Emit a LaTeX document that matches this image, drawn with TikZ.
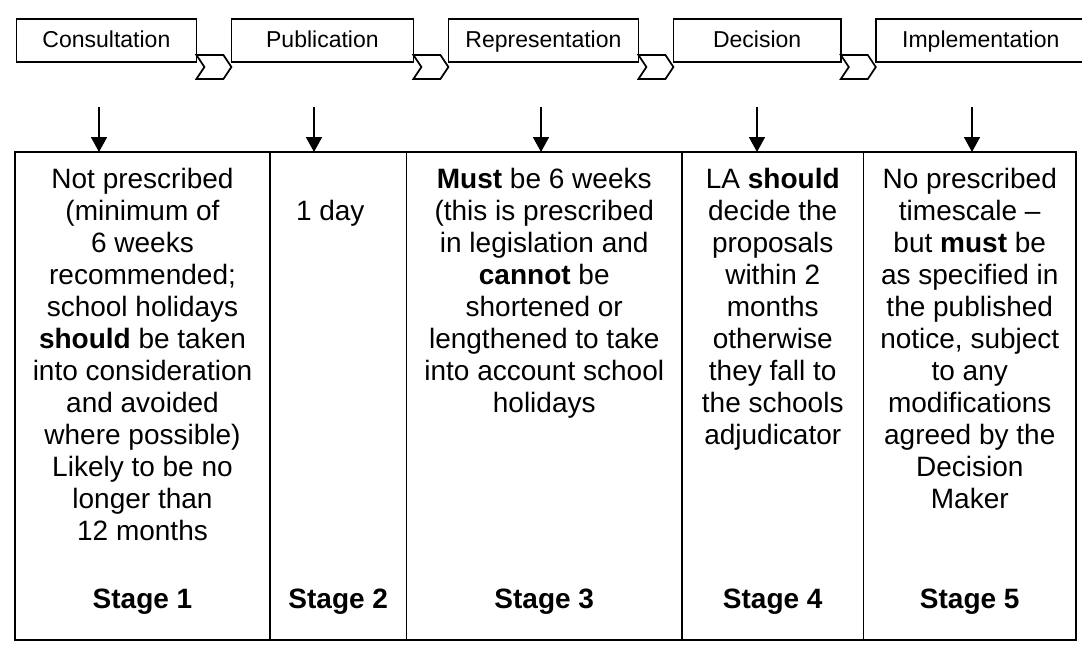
\documentclass[tikz,border=0pt]{standalone}
\usepackage{fontspec}
\setmainfont{Liberation Sans}
\usetikzlibrary{positioning,arrows.meta}

\tikzset{
  phase/.style={draw,line width=0.85pt,minimum height=21.5pt,inner sep=0pt,outer sep=0pt,
    font=\fontsize{11.5}{13}\selectfont,text height=0.72em,text depth=0pt},
  cell/.style={draw,line width=0.85pt,minimum height=244pt,inner sep=0pt,outer sep=0pt},
  body/.style={anchor=north,align=center,inner sep=0pt,font=\fontsize{14}{16}\selectfont},
  stage/.style={anchor=base,inner sep=0pt,font=\fontsize{14}{16}\selectfont\bfseries},
  chevron/.style={draw,line width=0.85pt,line join=miter},
  down/.style={-{Triangle[length=7.5pt,width=8pt]},line width=0.9pt}
}

\begin{document}
\begin{tikzpicture}[x=0.5pt,y=-0.5pt]
  \useasboundingbox (0,0) rectangle (1082,650);
  \clip (0,0) rectangle (1082,650);

  % phases along the top
  \node[phase,minimum width=90pt,anchor=north west] (cons) at (16.4,19) {Consultation};
  \node[phase,minimum width=91pt,right=17.5pt of cons] (pub) {Publication};
  \node[phase,minimum width=95pt,right=17.5pt of pub] (rep) {Representation};
  \node[phase,minimum width=83.7pt,right=17.5pt of rep] (dec) {Decision};
  \node[phase,minimum width=105pt,right=17.5pt of dec] (impl) {Implementation};

  \foreach \a/\b in {cons/pub,pub/rep,rep/dec,dec/impl}
    \draw[chevron] ([yshift=3.5pt]\a.south east) -- ++(27,0) -- ([yshift=-2.5pt]\b.south west)
      -- ++(-8,12) -- ++(-27,0) -- ++(8,-12) -- cycle;

  % the table of stages
  \node[cell,minimum width=127.5pt,anchor=north west] (s1) at (15,152) {};
  \node[cell,minimum width=68.25pt,right=0pt of s1] (s2) {};
  \node[cell,minimum width=137.75pt,right=0pt of s2] (s3) {};
  \node[cell,minimum width=90.75pt,right=0pt of s3] (s4) {};
  \node[cell,minimum width=106.25pt,right=0pt of s4] (s5) {};

  \coordinate (a1) at (99,107);
  \coordinate (a2) at (314,107);
  \coordinate (a3) at (541,107);
  \coordinate (a4) at (757,107);
  \coordinate (a5) at (972,107);
  \foreach \i in {1,...,5}
    \draw[down] (a\i) -- (a\i |- s\i.north);

  \node[body] (t1) at ([yshift=-8pt]s1.north) {Not prescribed\\(minimum of\\6 weeks\\recommended;\\school holidays\\\textbf{should} be taken\\into consideration\\and avoided\\where possible)\\Likely to be no\\longer than\\12 months};
  \node[body] (t2) at ([xshift=-4pt,yshift=-24pt]s2.north) {1 day};
  \node[body] (t3) at ([yshift=-8pt]s3.north) {\textbf{Must} be 6 weeks\\(this is prescribed\\in legislation and\\\textbf{cannot} be\\shortened or\\lengthened to take\\into account school\\holidays};
  \node[body] (t4) at ([yshift=-8pt]s4.north) {LA \textbf{should}\\decide the\\proposals\\within 2\\months\\otherwise\\they fall to\\the schools\\adjudicator};
  \node[body] (t5) at ([yshift=-8pt]s5.north) {No prescribed\\timescale –\\but \textbf{must} be\\as specified in\\the published\\notice, subject\\to any\\modifications\\agreed by the\\Decision\\Maker};

  \foreach \i in {1,...,5}
    \node[stage] (g\i) at ([yshift=16pt]s\i.south) {Stage \i};
\end{tikzpicture}
\end{document}
